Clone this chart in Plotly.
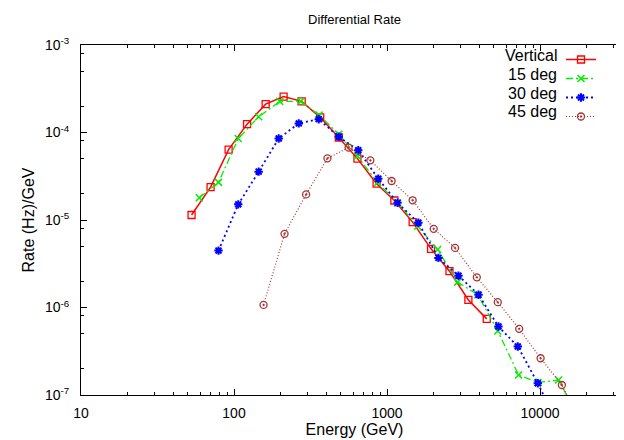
import plotly.graph_objects as go

# Differential rate vs energy
vertical_energy = [52.8, 70.3, 92.2, 121.7, 161, 211, 277, 366, 484, 641, 855, 1117,
                   1471, 1940, 2560, 3404, 4487]
vertical_rate = [1.14e-5, 2.38e-5, 6.38e-5, 1.245e-4, 2.11e-4, 2.57e-4, 2.27e-4, 1.49e-4,
                 8.77e-5, 5.03e-5, 2.6e-5, 1.67e-5, 9.46e-6, 4.68e-6, 2.6e-6, 1.22e-6, 7.41e-7]

deg15_energy = [59.3, 79.2, 106.6, 145, 199, 273, 360, 484, 641, 867, 1172, 1585, 2142,
                2897, 3917, 5297, 7244, 9700, 13250, 17800]
deg15_rate = [1.8e-5, 2.69e-5, 8.53e-5, 1.51e-4, 2.27e-4, 2.27e-4, 1.58e-4, 9.57e-5, 5.4e-5,
              2.67e-5, 1.57e-5, 8.5e-6, 4.6e-6, 1.95e-6, 1.4e-6, 5.4e-7, 1.69e-7, 1.39e-7,
              1.48e-7, 5.5e-8]

deg30_energy = [79.2, 106.6, 145, 196, 265, 358, 484, 649, 877, 1172, 1603, 2168, 2931,
                3963, 5350, 7160, 9680, 13000]
deg30_rate = [4.47e-6, 1.51e-5, 3.57e-5, 8.53e-5, 1.27e-4, 1.42e-4, 8.93e-5, 6.27e-5, 2.96e-5,
              1.57e-5, 9.29e-6, 3.69e-6, 2.31e-6, 1.4e-6, 6.07e-7, 3.58e-7, 1.36e-7, 4.7e-8]

deg45_energy = [156, 214, 296, 408, 561, 778, 1072, 1471, 2020, 2785, 3864, 5297, 7310,
                10090, 13900, 19100]
deg45_rate = [1.07e-6, 6.95e-6, 1.96e-5, 5.07e-5, 6.73e-5, 4.81e-5, 2.79e-5, 1.68e-5, 7.92e-6,
              4.8e-6, 2.21e-6, 1.15e-6, 5.7e-7, 2.63e-7, 1.3e-7, 4.3e-8]

series_names = ["Vertical", "15 deg", "30 deg", "45 deg"]

x_tick_vals = [10, 100, 1000, 10000]
x_tick_text = ["10", "100", "1000", "10000"]
y_tick_vals = [1e-7, 1e-6, 1e-5, 1e-4, 1e-3]
y_tick_text = ["10<sup>-7</sup>", "10<sup>-6</sup>", "10<sup>-5</sup>",
               "10<sup>-4</sup>", "10<sup>-3</sup>"]
y_minor_vals = [m * 10.0 ** e for e in range(-7, -3) for m in (2, 5, 8)]

FONT = "Liberation Sans, Arial, sans-serif"

# pixel geometry of the plot box (624x440 canvas)
L, R, T, B = 73, 620, 37, 387
W, H = 624, 440


def px(x):
    return (x - L) / (R - L)


def py(y):
    return (B - y) / (B - T)


styles = [
    dict(color="#ff0000", dash="solid", width=1.5, symbol="square-open", size=7, mlw=1.3),
    dict(color="#00ee00", dash="7px,3px,2px,3px", width=1.3, symbol="x-thin-open", size=7, mlw=1.5),
    dict(color="#0000ff", dash="2px,3px", width=1.8, symbol="asterisk-open", size=7, mlw=2),
    dict(color="#a83232", dash="1px,2px", width=1.2, symbol="circle-open-dot", size=7, mlw=1.3),
]
data = [
    (vertical_energy, vertical_rate),
    (deg15_energy, deg15_rate),
    (deg30_energy, deg30_rate),
    (deg45_energy, deg45_rate),
]

fig = go.Figure()
for (xs, ys), st, name in zip(data, styles, series_names):
    fig.add_trace(go.Scatter(
        x=xs, y=ys, mode="lines+markers", name="",
        line=dict(color=st["color"], dash=st["dash"], width=st["width"]),
        marker=dict(symbol=st["symbol"], size=st["size"], color=st["color"],
                    line=dict(color=st["color"], width=st["mlw"])),
        hovertext=name,
    ))

# legend labels, right-aligned to the left of the samples (gnuplot style key)
row_y = [47, 66, 85, 104]
for name, y in zip(series_names, row_y):
    fig.add_annotation(x=px(551), y=py(y), xref="paper", yref="paper", text=name,
                       showarrow=False, xanchor="right", yanchor="middle",
                       font=dict(family=FONT, size=16, color="black"))

axis_common = dict(
    type="log", showline=True, linecolor="black", linewidth=1, mirror="allticks",
    ticks="inside", ticklen=6, tickcolor="black", showgrid=False, zeroline=False,
    tickfont=dict(family=FONT, size=14, color="black"),
)

fig.update_xaxes(
    **axis_common, range=[1, 1 + (R - L) / 153.0],
    tickvals=x_tick_vals, ticktext=x_tick_text,
    minor=dict(ticks="inside", ticklen=3, tickcolor="black", dtick="D1"),
    title=dict(text="Energy (GeV)", font=dict(family=FONT, size=16, color="black"), standoff=0),
    ticklabelstandoff=5,
)
fig.update_yaxes(
    **axis_common, range=[-7.0001, -2.9999],
    tickvals=y_tick_vals, ticktext=y_tick_text,
    minor=dict(ticks="inside", ticklen=3, tickcolor="black", tickvals=y_minor_vals),
    title=dict(text="Rate (Hz)/GeV", font=dict(family=FONT, size=16, color="black"), standoff=6),
    ticklabelstandoff=8,
)

fig.update_layout(
    width=W, height=H,
    margin=dict(l=L, r=W - R, t=T, b=H - B, pad=0),
    paper_bgcolor="white", plot_bgcolor="white",
    title=dict(text="Differential Rate", x=0.5, xref="paper", y=1 - 11 / H, yanchor="middle",
               font=dict(family=FONT, size=13, color="black")),
    showlegend=True,
    legend=dict(x=px(553), y=py(37), xanchor="left", yanchor="top", bgcolor="rgba(0,0,0,0)",
                font=dict(family=FONT, size=12), itemwidth=30, traceorder="normal"),
    font=dict(family=FONT, color="black"),
)

fig.write_html("out.html")
